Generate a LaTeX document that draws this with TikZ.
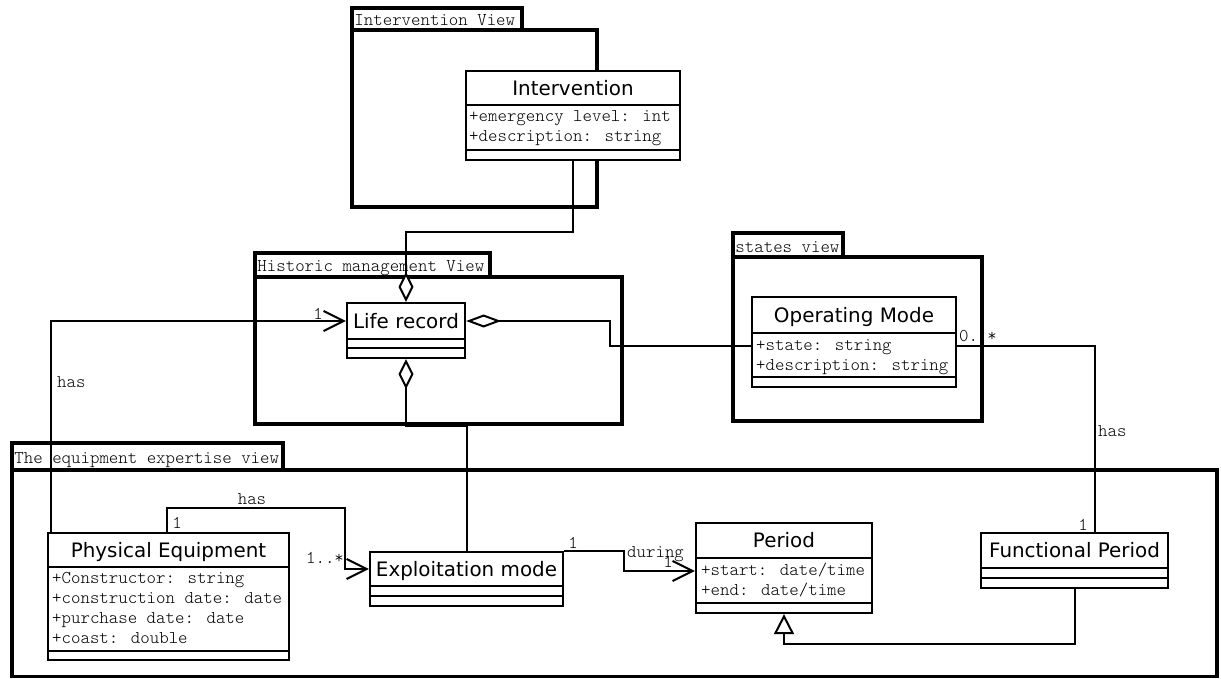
\documentclass[tikz,border=0pt]{standalone}
\usepackage{fontspec}
\usetikzlibrary{arrows.meta,fit}
\newfontfamily\classfont{DejaVu Sans}
\newfontfamily\codefont{lmmonolt10-regular.otf}

\tikzset{
  package/.style={draw, line width=3.5pt, inner sep=0pt},
  classbox/.style={draw, fill=white, line width=2.3pt, inner sep=0pt},
  compart/.style={line width=2.3pt},
  classname/.style={font=\classfont\fontsize{19.9}{22}\selectfont, inner sep=0pt, text height=14.5pt, text depth=0pt},
  tag/.style={font=\codefont\fontsize{18}{20}\selectfont, inner sep=0pt, text height=11pt, text depth=3pt},
  attrib/.style={tag, anchor=west},
  tablabel/.style={tag, anchor=west},
  link/.style={line width=2pt, line join=miter},
  navig/.style={link, -{Straight Barb[length=20pt,width=20pt]}},
  aggr/.tip={Diamond[length=30pt,width=15pt,fill=white]},
  aggrh/.tip={Diamond[length=35pt,width=13pt,fill=white]},
  inherit/.style={link, -{Triangle[length=20pt,width=20pt,fill=white]}}
}

% #1 name, #2 left, #3 top, #4 right, #5 bottom, #6 name compartment bottom,
% #7 attribute compartment bottom, #8 class name
\newcommand\umlclass[8]{%
  \node[classbox, fit={(#2,#3) (#4,#5)}] (#1) {};
  \draw[compart] (#2,#6) -- (#4,#6) (#2,#7) -- (#4,#7);
  \node[classname] (#1-name) at ({(#2+#4)/2},{(#3+#6)/2}) {#8};
}

% #1 name, #2 tab right, #3 tab top, #4 left, #5 body top, #6 right, #7 bottom, #8 label
\newcommand\umlpackage[8]{%
  \node[package, fit={(#4,#3) (#2,#5)}] (#1-tab) {};
  \node[package, fit={(#4,#5) (#6,#7)}] (#1) {};
  \node[tablabel] (#1-label) at ([xshift=4pt,yshift=-3pt]#1-tab.west) {#8};
}

\begin{document}
\begin{tikzpicture}[x=1pt,y=-1pt]
\useasboundingbox (0,0) rectangle (1221,679);
\fill[white] (0,0) rectangle (1221,679);

% packages
\umlpackage{pkgiv}{522}{8}{352}{30}{597}{207}{Intervention View}
\umlpackage{pkghm}{490}{253}{255}{277}{622}{424}{Historic management View}
\umlpackage{pkgst}{843}{233}{733}{257}{982}{421}{states view}
\umlpackage{pkgeq}{283}{443}{12}{470}{1217}{676.5}{The equipment expertise view}

% classes
\umlclass{itv}{466}{71}{680}{160}{105}{150}{Intervention}
\node[attrib] (itv-a1) at (469,118) {+emergency level: int};
\node[attrib] (itv-a2) at (469,138) {+description: string};

\umlclass{lr}{347}{303}{465}{358}{339}{348}{Life record}

\umlclass{om}{752}{297}{956}{387}{333}{377}{Operating Mode}
\node[attrib] (om-a1) at (756,346) {+state: string};
\node[attrib] (om-a2) at (756,366) {+description: string};

\umlclass{pe}{48}{533}{289}{660}{567}{651}{Physical Equipment}
\node[attrib] (pe-a1) at (52,579) {+Constructor: string};
\node[attrib] (pe-a2) at (52,599) {+construction date: date};
\node[attrib] (pe-a3) at (52,619) {+purchase date: date};
\node[attrib] (pe-a4) at (52,639) {+coast: double};

\umlclass{em}{370}{552}{563}{606}{586}{596}{Exploitation mode}

\umlclass{per}{696}{523}{872}{613}{558}{603}{Period}
\node[attrib] (per-a1) at (701,571) {+start: date/time};
\node[attrib] (per-a2) at (701,591) {+end: date/time};

\umlclass{fp}{981}{533}{1168}{588}{568}{578}{Functional Period}

% connectors
\draw[link, -{aggr}] (itv.south) -- ++(0,71) -| (lr.north);
\draw[link, {aggr}-] (lr.south) -- ++(0,67) -| (em.north);
\draw[link, {aggrh}-] (lr.east |- lr-name) -- ++(144,0) |- (om.west |- om-a1);
\draw[navig] ([xshift=4pt]pe.north west) |- (lr.west |- lr-name);
\draw[navig] ([xshift=120pt]pe.north west) |- (345,508) |- (em.west |- em-name);
\draw[navig] (em.north east) -- ++(60,0) |- (per.west |- per-a1);
\draw[link] (om.east |- om-a1) -| ([xshift=20.5pt]fp.north);
\draw[inherit] (fp.south) -- ++(0,55) -| (per.south);

% association labels
\node[tag, anchor=west] (l-has1) at (57,383) {has};
\node[tag] (l-m1) at (318,315) {1};
\node[tag] (l-m2) at (177,524) {1};
\node[tag] (l-has2) at (252,500) {has};
\node[tag] (l-m3) at (325,559) {1..*};
\node[tag] (l-m4) at (573,544) {1};
\node[tag, anchor=west] (l-during) at (627,553) {during};
\node[tag] (l-m5) at (668,563) {1};
\node[tag] (l-m6) at (978,337) {0..*};
\node[tag, anchor=west] (l-has3) at (1098,432) {has};
\node[tag] (l-m7) at (1083,526) {1};
\end{tikzpicture}
\end{document}
